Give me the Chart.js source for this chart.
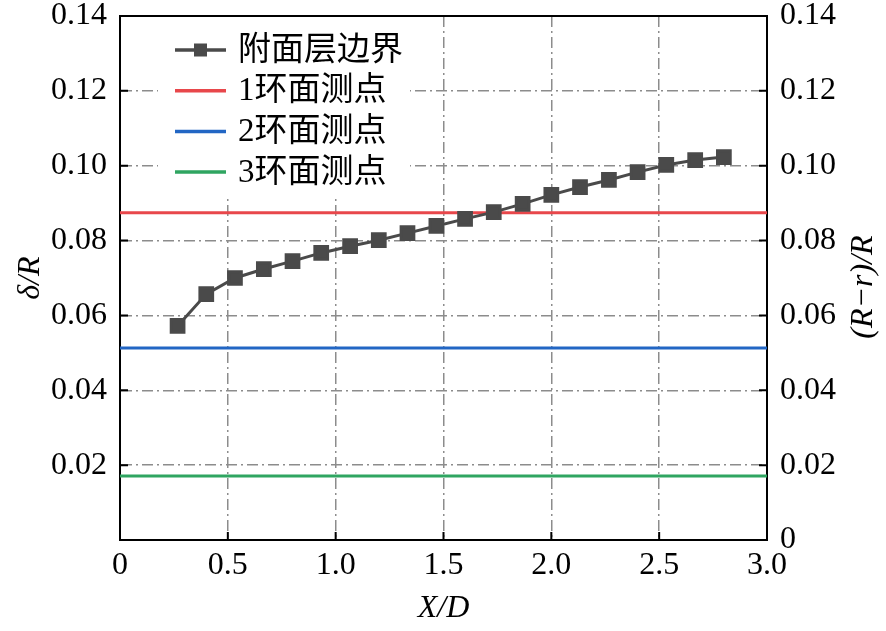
<!DOCTYPE html>
<html>
<head>
<meta charset="utf-8">
<script src="https://cdn.jsdelivr.net/npm/chart.js@4.4.1/dist/chart.umd.min.js"></script>
<style>
  html, body { margin: 0; padding: 0; background: #fff; }
  #wrap { width: 886px; height: 631px; }
</style>
</head>
<body>
<div id="wrap"><canvas id="bl"></canvas></div>
<script>
// X/D positions of the boundary-layer points
const xd = [0.267, 0.4, 0.533, 0.667, 0.8, 0.933, 1.067, 1.2, 1.333, 1.467,
            1.6, 1.733, 1.867, 2.0, 2.133, 2.267, 2.4, 2.533, 2.667, 2.8];
// δ/R
const deltaR = [0.0572, 0.0657, 0.0700, 0.0724, 0.0745, 0.0767, 0.0785, 0.0801, 0.0820, 0.0839,
                0.0858, 0.0876, 0.0898, 0.0922, 0.0943, 0.0962, 0.0983, 0.1002, 0.1015, 0.1023];
// (R-r)/R of the three measuring rings
const ringNames = ['1环面测点', '2环面测点', '3环面测点'];
const ringValues = [0.0874, 0.0513, 0.0171];
const ringSpan = [0, 3];
const xTicks = [0, 0.5, 1.0, 1.5, 2.0, 2.5, 3.0];
const yTicks = [0, 0.02, 0.04, 0.06, 0.08, 0.10, 0.12, 0.14];

const ringColors = ['#e8474b', '#2266c4', '#2fa561'];
const serif = "'Liberation Serif', 'Times New Roman', serif";
const cjk = "'Liberation Serif', 'Noto Sans CJK SC', serif";

const datasets = [{
  label: '附面层边界',
  data: xd.map((x, i) => ({ x: x, y: deltaR[i] })),
  borderColor: '#4a4a4a',
  backgroundColor: '#4a4a4a',
  borderWidth: 3,
  pointStyle: 'rect',
  pointRadius: 9,
  pointHoverRadius: 9,
  yAxisID: 'y',
  order: 0
}];
ringValues.forEach((v, i) => {
  datasets.push({
    label: ringNames[i],
    data: ringSpan.map(x => ({ x: x, y: v })),
    borderColor: ringColors[i],
    borderWidth: 3,
    pointRadius: 0,
    yAxisID: 'y2',
    order: 1
  });
});

function fixedTicks(list) {
  return function (scale) { scale.ticks = list.map(v => ({ value: v })); };
}

// fixed axis size, no extra room for the end labels
function fitWidth(w) {
  return function (s) {
    s.width = w;
    s.paddingTop = 0;
    s.paddingBottom = 0;
  };
}

// legend, inward tick marks, top frame line and axis titles
const frame = {
  id: 'frame',
  afterDatasetsDraw(chart) {
    const { ctx, chartArea: a, scales } = chart;
    ctx.save();
    // legend box (white, covers grid)
    ctx.fillStyle = '#fff';
    ctx.fillRect(158, a.top + 1, 252, 197 - a.top);
    const items = chart.data.datasets;
    items.forEach((ds, i) => {
      const y = 50 + i * 40.7;
      ctx.strokeStyle = ds.borderColor;
      ctx.lineWidth = 3.5;
      ctx.beginPath();
      ctx.moveTo(175, y);
      ctx.lineTo(226, y);
      ctx.stroke();
      if (ds.pointStyle === 'rect') {
        ctx.fillStyle = ds.backgroundColor;
        ctx.fillRect(194, y - 6.5, 13, 13);
      }
      ctx.fillStyle = '#000';
      ctx.font = '33px ' + cjk;
      ctx.textAlign = 'left';
      ctx.textBaseline = 'middle';
      ctx.fillText(ds.label, 238, y + 1);
    });

    ctx.strokeStyle = '#000';
    ctx.lineWidth = 2;
    ctx.beginPath();
    ctx.moveTo(a.left, a.top);
    ctx.lineTo(a.right, a.top);
    ctx.stroke();
    ctx.beginPath();
    yTicks.forEach(v => {
      const py = scales.y.getPixelForValue(v);
      ctx.moveTo(a.left, py); ctx.lineTo(a.left + 8, py);
      const py2 = scales.y2.getPixelForValue(v);
      ctx.moveTo(a.right, py2); ctx.lineTo(a.right - 8, py2);
    });
    xTicks.forEach(v => {
      const px = scales.x.getPixelForValue(v);
      ctx.moveTo(px, a.bottom); ctx.lineTo(px, a.bottom - 8);
    });
    ctx.stroke();

    ctx.fillStyle = '#000';
    ctx.font = 'italic 32px ' + serif;
    ctx.textAlign = 'center';
    ctx.textBaseline = 'middle';
    ctx.fillText('X/D', (a.left + a.right) / 2, 609);
    ctx.save();
    ctx.translate(31, (a.top + a.bottom) / 2);
    ctx.rotate(-Math.PI / 2);
    ctx.fillText('δ/R', 0, 0);
    ctx.restore();
    ctx.save();
    ctx.translate(864, 287);
    ctx.rotate(-Math.PI / 2);
    ctx.fillText('(R−r)/R', 0, 0);
    ctx.restore();
    ctx.restore();
  }
};

const gridStyle = { color: '#8c8c8c', lineWidth: 1.5, drawTicks: false };
const borderStyle = { color: '#000', width: 2, dash: [11, 4, 2, 4] };
const tickFont = { family: serif, size: 32 };

new Chart(document.getElementById('bl'), {
  type: 'line',
  data: { datasets: datasets },
  options: {
    responsive: true,
    maintainAspectRatio: false,
    animation: false,
    layout: { padding: { top: 16, left: 0, right: 0, bottom: 0 } },
    plugins: { legend: { display: false }, tooltip: { enabled: false } },
    scales: {
      x: {
        type: 'linear', min: 0, max: 3,
        afterBuildTicks: fixedTicks(xTicks),
        afterFit(s) { s.height = 91; },
        grid: gridStyle, border: borderStyle,
        ticks: {
          font: tickFont, color: '#000', padding: 6, maxRotation: 0,
          callback: v => v === 0 ? '0' : v.toFixed(1)
        }
      },
      y: {
        type: 'linear', position: 'left', min: 0, max: 0.14,
        afterBuildTicks: fixedTicks(yTicks),
        afterFit: fitWidth(120),
        grid: gridStyle, border: borderStyle,
        ticks: {
          font: tickFont, color: '#000', padding: 13,
          callback: v => v === 0 ? '' : v.toFixed(2)
        }
      },
      y2: {
        type: 'linear', position: 'right', min: 0, max: 0.14,
        afterBuildTicks: fixedTicks(yTicks),
        afterFit: fitWidth(119),
        grid: { display: false, drawTicks: false },
        border: { color: '#000', width: 2 },
        ticks: {
          font: tickFont, color: '#000', padding: 13,
          callback: v => v === 0 ? '0' : v.toFixed(2)
        }
      }
    }
  },
  plugins: [frame]
});
</script>
</body>
</html>
